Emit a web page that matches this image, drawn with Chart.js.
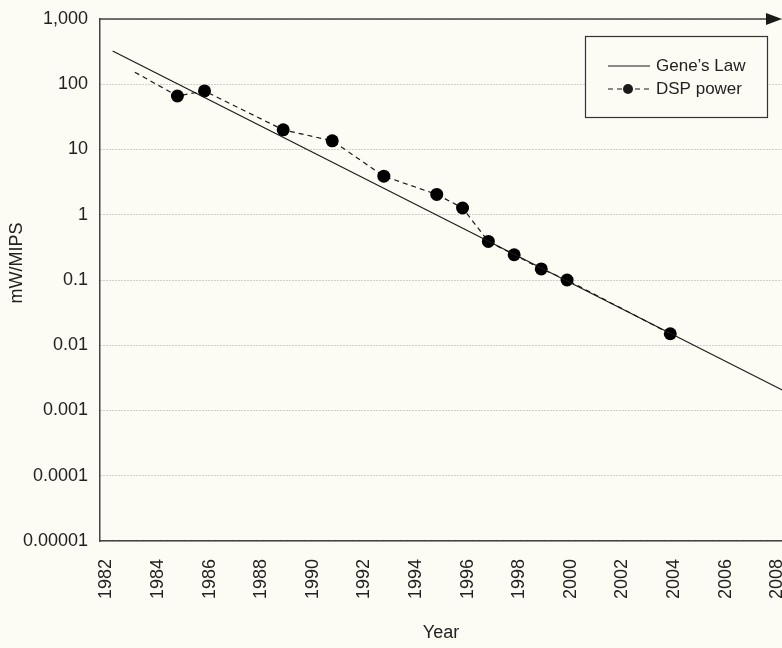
<!DOCTYPE html>
<html>
<head>
<meta charset="utf-8">
<title>Gene's Law</title>
<script src="https://cdn.jsdelivr.net/npm/chart.js@4.4.0/dist/chart.umd.min.js"></script>
<style>
  html, body { margin: 0; padding: 0; background: #fcfbf4; overflow: hidden; }
</style>
</head>
<body>
<canvas id="chart" width="782" height="648"></canvas>
<script>
// axis ticks
const xTickYears = [1982, 1984, 1986, 1988, 1990, 1992, 1994, 1996, 1998, 2000, 2002, 2004, 2006, 2008];
const yTickValues = [1000, 100, 10, 1, 0.1, 0.01, 0.001, 0.0001, 0.00001];
const yTickLabels = ['1,000', '100', '10', '1', '0.1', '0.01', '0.001', '0.0001', '0.00001'];

// Gene's Law: straight trend line, its two ends
const genesLawYears = [1982.24, 2008.2];
const genesLawValues = [324, 0.00205];

// DSP power (first point is the start of the dashes, no marker)
const dspYears = [1983.1, 1984.75, 1985.8, 1988.85, 1990.75, 1992.75, 1994.8, 1995.8, 1996.8, 1997.8, 1998.85, 1999.85, 2003.85];
const dspValues = [153, 66, 79, 20, 13.6, 3.9, 2.05, 1.27, 0.39, 0.244, 0.148, 0.1, 0.015];

const FONT = '"Liberation Sans", Arial, Helvetica, sans-serif';
const INK = '#1a1a1a';
const TEXT = '#222';
const BG = '#fcfbf4';

const toPoints = (xs, ys) => xs.map((x, i) => ({ x: x, y: ys[i] }));

// top border with arrow, y axis title and the boxed legend
const decorations = {
    id: 'decorations',
    afterDraw(chart) {
        const { ctx, chartArea } = chart;
        ctx.save();

        // top border ending in an arrow
        ctx.strokeStyle = '#444';
        ctx.lineWidth = 1.5;
        ctx.beginPath();
        ctx.moveTo(chartArea.left, chartArea.top);
        ctx.lineTo(770, chartArea.top);
        ctx.stroke();
        ctx.fillStyle = INK;
        ctx.beginPath();
        ctx.moveTo(782, chartArea.top);
        ctx.lineTo(766, chartArea.top - 6);
        ctx.lineTo(766, chartArea.top + 6);
        ctx.closePath();
        ctx.fill();

        // y axis title
        ctx.fillStyle = TEXT;
        ctx.font = '18px ' + FONT;
        ctx.textAlign = 'center';
        ctx.textBaseline = 'middle';
        ctx.translate(17, 263);
        ctx.rotate(-Math.PI / 2);
        ctx.fillText('mW/MIPS', 0, 0);
        ctx.setTransform(1, 0, 0, 1, 0, 0);

        // legend box
        ctx.fillStyle = BG;
        ctx.fillRect(585.5, 36.5, 182, 81);
        ctx.strokeStyle = '#333';
        ctx.lineWidth = 1.2;
        ctx.strokeRect(585.5, 36.5, 182, 81);

        ctx.strokeStyle = INK;
        ctx.lineWidth = 1.2;
        ctx.beginPath();
        ctx.moveTo(608, 66);
        ctx.lineTo(650, 66);
        ctx.stroke();

        ctx.setLineDash([5, 4]);
        ctx.beginPath();
        ctx.moveTo(608, 89);
        ctx.lineTo(652, 89);
        ctx.stroke();
        ctx.setLineDash([]);
        ctx.fillStyle = INK;
        ctx.beginPath();
        ctx.arc(628, 89, 5, 0, Math.PI * 2);
        ctx.fill();

        ctx.fillStyle = TEXT;
        ctx.font = '17px ' + FONT;
        ctx.textAlign = 'left';
        ctx.textBaseline = 'middle';
        ctx.fillText('Gene\u2019s Law', 656, 66);
        ctx.fillText('DSP power', 656, 89);

        ctx.restore();
    }
};

new Chart(document.getElementById('chart'), {
    type: 'line',
    data: {
        datasets: [
            {
                label: "Gene's Law",
                data: toPoints(genesLawYears, genesLawValues),
                borderColor: INK,
                borderWidth: 1.2,
                pointRadius: 0,
                tension: 0
            },
            {
                label: 'DSP power',
                data: toPoints(dspYears, dspValues),
                borderColor: INK,
                borderWidth: 1.2,
                borderDash: [5, 4],
                pointRadius: ctx => ctx.dataIndex === 0 ? 0 : 6.5,
                pointBackgroundColor: '#000',
                pointBorderWidth: 0,
                tension: 0
            }
        ]
    },
    options: {
        responsive: false,
        animation: false,
        layout: { autoPadding: false, padding: { top: 19, right: 0, bottom: 0, left: 0 } },
        plugins: {
            legend: { display: false },
            tooltip: { enabled: false }
        },
        scales: {
            x: {
                type: 'linear',
                min: 1981.75,
                max: 2008.18,
                afterBuildTicks: scale => {
                    scale.ticks = xTickYears.map(v => ({ value: v }));
                },
                afterFit: scale => {
                    scale.height = 107;
                    scale.paddingRight = 0;
                    scale.paddingLeft = 0;
                },
                grid: { display: false, drawTicks: false },
                border: { display: true, color: '#444', width: 1.5 },
                ticks: {
                    minRotation: 90,
                    maxRotation: 90,
                    padding: 18,
                    color: TEXT,
                    font: { size: 18, family: FONT },
                    callback: v => String(v)
                },
                title: {
                    display: true,
                    text: 'Year',
                    color: TEXT,
                    font: { size: 18, family: FONT },
                    padding: { top: 0, bottom: 4 }
                }
            },
            y: {
                type: 'logarithmic',
                min: 0.00001,
                max: 1000,
                afterBuildTicks: scale => {
                    scale.ticks = yTickValues.map(v => ({ value: v }));
                },
                afterFit: scale => {
                    scale.width = 100;
                    scale.paddingTop = 0;
                    scale.paddingBottom = 0;
                },
                grid: { color: '#a0a0a0', lineWidth: 1, drawTicks: false },
                border: { display: true, color: '#444', width: 1.5, dash: [1, 2] },
                ticks: {
                    padding: 12,
                    color: TEXT,
                    font: { size: 18, family: FONT },
                    callback: (v, i) => yTickLabels[i]
                }
            }
        }
    },
    plugins: [decorations]
});
</script>
</body>
</html>
